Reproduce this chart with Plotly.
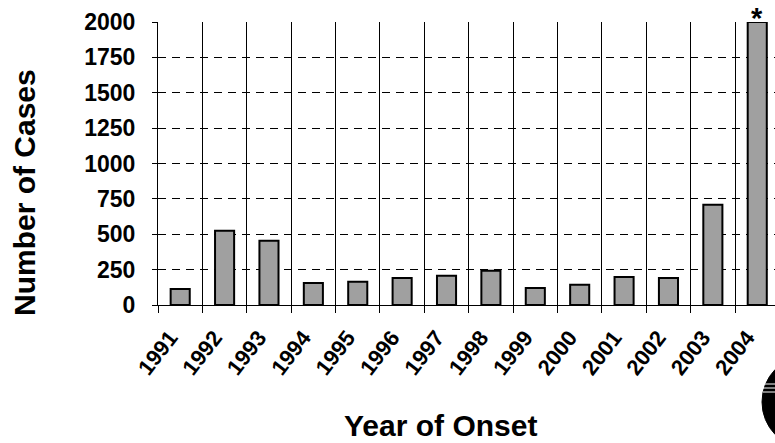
import plotly.graph_objects as go

years = ["1991", "1992", "1993", "1994", "1995", "1996", "1997",
         "1998", "1999", "2000", "2001", "2002", "2003", "2004"]
cases = [113, 524, 454, 155, 164, 190, 207, 242, 120, 143, 198, 190, 708, 2000]
y_ticks = [0, 250, 500, 750, 1000, 1250, 1500, 1750, 2000]

FONT = "Arial, 'Liberation Sans', sans-serif"

PL, PT, PW, PH = 158, 22, 617, 283


def px(x):
    return (x - PL) / PW


def py(y):
    return (PT + PH - y) / PH


fig = go.Figure()
fig.add_trace(go.Bar(
    x=years, y=cases,
    width=0.43,
    marker=dict(color="#a0a0a0", line=dict(color="black", width=2)),
    cliponaxis=False,
))

fig.add_annotation(x=len(years) - 1, y=py(18), xref="x", yref="paper", text="<b>*</b>",
                   showarrow=False, yanchor="middle",
                   font=dict(family=FONT, size=29, color="black"))

fig.add_annotation(x=px(440), y=py(425), xref="paper", yref="paper",
                   text="<b>Year of Onset</b>", showarrow=False,
                   xanchor="center", yanchor="middle",
                   font=dict(family=FONT, size=30, color="black"))
fig.add_annotation(x=px(24), y=py(193), xref="paper", yref="paper",
                   text="<b>Number of Cases</b>", showarrow=False, textangle=-90,
                   xanchor="center", yanchor="middle",
                   font=dict(family=FONT, size=30, color="black"))

# partial logo circle at bottom right
fig.add_shape(type="circle", xref="paper", yref="paper",
              x0=px(762), x1=px(852), y0=py(448), y1=py(356),
              fillcolor="black", line=dict(color="black", width=1), layer="above")
for yy in (384, 388, 392):
    fig.add_shape(type="line", xref="paper", yref="paper",
                  x0=px(763), x1=px(776), y0=py(yy), y1=py(yy),
                  line=dict(color="white", width=1), layer="above")

fig.update_layout(
    width=775, height=443,
    margin=dict(l=PL, r=775 - PL - PW, t=PT, b=443 - PT - PH),
    plot_bgcolor="white", paper_bgcolor="white",
    showlegend=False,
    xaxis=dict(
        type="category",
        range=[-0.5, 13.4],
        tickson="boundaries",
        showgrid=True, gridcolor="black", gridwidth=1,
        ticks="outside", ticklen=7, tickcolor="black",
        showline=True, linecolor="black", linewidth=1,
        tickangle=-52,
        ticklabelshift=-10,
        ticklabelstandoff=10,
        tickfont=dict(family=FONT, size=22, color="black", weight="bold"),
    ),
    yaxis=dict(
        range=[0, 2000],
        tickvals=y_ticks,
        ticktext=[str(v) for v in y_ticks],
        showgrid=True, gridcolor="black", gridwidth=1, griddash="8px,6px",
        ticks="outside", ticklen=5, tickcolor="black",
        showline=True, linecolor="black", linewidth=1,
        zeroline=True, zerolinecolor="black", zerolinewidth=1,
        tickfont=dict(family=FONT, size=23, color="black", weight="bold"),
        ticklabelstandoff=12,
    ),
)

fig.write_html("out.html", config={"displayModeBar": False},
               post_script="document.body.style.margin='0';")
